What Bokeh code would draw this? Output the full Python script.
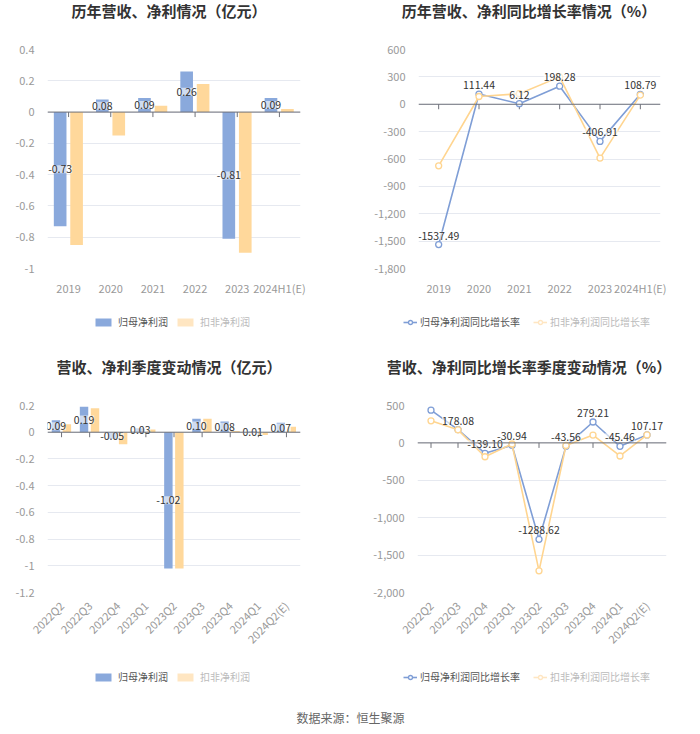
import math
from bokeh.plotting import figure
from bokeh.layouts import row, column
from bokeh.models import (ColumnDataSource, FixedTicker, NumeralTickFormatter, Legend,
                          LegendItem, Range1d, FactorRange, Span)
from bokeh.transform import dodge
from bokeh.core.properties import value
from bokeh.embed import file_html
from bokeh.resources import INLINE

FONT = "Noto Sans CJK SC"

# ---------------- data ----------------
years = ["2019", "2020", "2021", "2022", "2023", "2024H1(E)"]
annual_parent_profit = [-0.73, 0.08, 0.09, 0.26, -0.81, 0.09]
annual_deducted_profit = [-0.85, -0.15, 0.04, 0.18, -0.90, 0.02]
annual_parent_growth = [-1537.49, 111.44, 6.12, 198.28, -406.91, 108.79]
annual_deducted_growth = [-675, 85, 115, 300, -590, 100]

quarters = ["2022Q2", "2022Q3", "2022Q4", "2023Q1", "2023Q2", "2023Q3",
            "2023Q4", "2024Q1", "2024Q2(E)"]
q_parent_profit = [0.09, 0.19, -0.05, 0.03, -1.02, 0.10, 0.08, 0.01, 0.07]
q_deducted_profit = [0.06, 0.18, -0.09, 0.02, -1.02, 0.10, 0.01, -0.02, 0.04]
q_parent_growth = [437.72, 178.08, -139.10, -30.94, -1288.62, -43.56, 279.21, -45.46, 107.17]
q_deducted_growth = [295, 175, -185, -15, -1710, -35, 105, -175, 107]

annual_profit_ticks = [-1, -0.8, -0.6, -0.4, -0.2, 0, 0.2, 0.4]
annual_growth_ticks = [-1800, -1500, -1200, -900, -600, -300, 0, 300, 600]
q_profit_ticks = [-1.2, -1, -0.8, -0.6, -0.4, -0.2, 0, 0.2]
q_growth_ticks = [-2000, -1500, -1000, -500, 0, 500]

titles_top = ["历年营收、净利情况（亿元）", "历年营收、净利同比增长率情况（%）"]
titles_bottom = ["营收、净利季度变动情况（亿元）", "营收、净利同比增长率季度变动情况（%）"]
name_parent = "归母净利润"
name_deducted = "扣非净利润"
name_parent_g = "归母净利润同比增长率"
name_deducted_g = "扣非净利润同比增长率"
source_note = "数据来源：恒生聚源"

BLUE_BAR = "#8AA9DC"
ORANGE_BAR = "#FFD89B"
BLUE_LINE = "#7F9ED6"
ORANGE_LINE = "#FFD590"
LEGEND_ORANGE = "#FFE6C2"
GRID = "#E6E9F0"
AXIS = "#6E7079"
LABEL = "#999999"
NAN = float("nan")
DATA_FONT_SIZE = "10.5px"

LW, RW = 350, 346
TOTAL_W = LW + RW


def strip_fig(height):
    """Full-width helper figure whose frame fills it; data units are pixels."""
    p = figure(width=TOTAL_W, height=height, x_range=Range1d(0, TOTAL_W),
               y_range=Range1d(0, height), min_border=0, x_axis_location=None,
               y_axis_location=None, toolbar_location=None, output_backend="svg")
    p.grid.grid_line_color = None
    p.outline_line_color = None
    return p


def title_strip(height, texts, centers_x, center_y):
    p = strip_fig(height)
    p.text(x=centers_x, y=[height - center_y] * len(texts), text=texts,
           text_align="center", text_baseline="middle", text_font=value(FONT),
           text_font_size="15px", text_font_style="bold", text_color="#333333")
    return p


def legend_strip(height, cy, specs):
    p = strip_fig(height)
    for label, color, fill, x, kind in specs:
        if kind == "bar":
            rs = [p.vbar(x=[NAN], top=[NAN], width=1, fill_color=fill, line_color=None)]
            gw, gh, so = 20, 10, 5
        else:
            rs = [p.line(x=[NAN], y=[NAN], line_color=fill, line_width=1.6),
                  p.scatter(x=[NAN], y=[NAN], size=7, fill_color="white", line_color=fill,
                            line_width=1.3)]
            gw, gh, so = 14, 10, 3
        leg = Legend(items=[LegendItem(label=label, renderers=rs)],
                     location=(x, height - cy - 6), orientation="horizontal",
                     border_line_color=None, background_fill_alpha=0, padding=0, margin=0,
                     glyph_width=gw, glyph_height=gh, label_standoff=so, label_height=12,
                     label_text_font=FONT, label_text_font_size="10px",
                     label_text_color=color)
        p.add_layout(leg)
    return p


def style_axes(p, ticks, fmt, rotate):
    p.outline_line_color = None
    p.xgrid.grid_line_color = None
    p.ygrid.grid_line_color = GRID
    p.yaxis.ticker = FixedTicker(ticks=ticks)
    p.yaxis.formatter = NumeralTickFormatter(format=fmt)
    for ax in (p.xaxis[0], p.yaxis[0]):
        ax.axis_line_color = None
        ax.major_tick_line_color = None
        ax.minor_tick_line_color = None
        ax.major_label_text_color = LABEL
        ax.major_label_text_font = FONT
        ax.major_label_text_font_size = "11px"
    p.yaxis.major_label_standoff = 7
    p.xaxis.major_label_standoff = 5
    if rotate:
        p.xaxis.major_label_orientation = math.pi / 4


def zero_axis(p, xs, ticks, frame_h):
    p.add_layout(Span(location=0, dimension="width", line_color=AXIS, line_width=1))
    tick_len = 5 * (ticks[-1] - ticks[0]) / frame_h
    p.segment(x0=xs, x1=xs, y0=[0] * len(xs), y1=[-tick_len] * len(xs),
              line_color=AXIS, line_width=1)


def label_text(p, **kw):
    try:
        return p.text(background_fill_color="white", background_fill_alpha=0.6, **kw)
    except Exception:
        return p.text(**kw)


def bar_chart(cats, blue, orange, ticks, width, height, mb, frame_h, rotate=False):
    p = figure(width=width, height=height, x_range=FactorRange(factors=cats, range_padding=0),
               y_range=Range1d(ticks[0], ticks[-1]), toolbar_location=None,
               output_backend="svg", min_border_left=mb[0], min_border_right=mb[1],
               min_border_top=mb[2], min_border_bottom=mb[3])
    style_axes(p, ticks, "0.[0]", rotate)
    src = ColumnDataSource(dict(cat=cats, blue=blue, orange=orange,
                                mid=[v / 2 for v in blue],
                                lab=["%.2f" % v for v in blue]))
    p.vbar(x=dodge("cat", -0.2, range=p.x_range), top="blue", bottom=0, width=0.3,
           source=src, fill_color=BLUE_BAR, line_color=None)
    p.vbar(x=dodge("cat", 0.19, range=p.x_range), top="orange", bottom=0, width=0.3,
           source=src, fill_color=ORANGE_BAR, line_color=None)
    zero_axis(p, cats, ticks, frame_h)
    label_text(p, x=dodge("cat", -0.2, range=p.x_range), y="mid", text="lab", source=src,
               text_align="center", text_baseline="middle", text_font=value(FONT),
               text_font_size=DATA_FONT_SIZE, text_color="#333333")
    return p


def line_chart(cats, blue, orange, ticks, width, height, mb, frame_w, frame_h,
               extra_right=0, rotate=False):
    # categorical positions on a numeric scale; extra_right widens the frame a little
    # on the right (for the last data label) while keeping the category spacing
    n = len(cats)
    xs = list(range(n))
    pad = n * extra_right / frame_w
    p = figure(width=width, height=height, x_range=Range1d(-0.5, n - 0.5 + pad),
               y_range=Range1d(ticks[0], ticks[-1]), toolbar_location=None,
               output_backend="svg", min_border_left=mb[0],
               min_border_right=mb[1] - extra_right, min_border_top=mb[2],
               min_border_bottom=mb[3])
    style_axes(p, ticks, "0,0", rotate)
    p.xaxis.ticker = FixedTicker(ticks=xs)
    p.xaxis.major_label_overrides = {i: c for i, c in zip(xs, cats)}
    src = ColumnDataSource(dict(x=xs, blue=blue, orange=orange,
                                lab=["%.2f" % v for v in blue]))
    zero_axis(p, xs, ticks, frame_h)
    p.line(x="x", y="blue", source=src, line_color=BLUE_LINE, line_width=1.6)
    p.scatter(x="x", y="blue", source=src, size=6, fill_color="white",
              line_color=BLUE_LINE, line_width=1.3)
    p.line(x="x", y="orange", source=src, line_color=ORANGE_LINE, line_width=1.6)
    p.scatter(x="x", y="orange", source=src, size=6, fill_color="white",
              line_color=ORANGE_LINE, line_width=1.3)
    label_text(p, x="x", y="blue", text="lab", source=src, text_align="center",
               text_baseline="bottom", y_offset=-5, text_font=value(FONT),
               text_font_size=DATA_FONT_SIZE, text_color="#333333")
    return p


legend_specs = [(name_parent, "#555555", BLUE_BAR, 93, "bar"),
                (name_deducted, "#BBBBBB", LEGEND_ORANGE, 175, "bar"),
                (name_parent_g, "#555555", BLUE_LINE, 403, "line"),
                (name_deducted_g, "#BBBBBB", LEGEND_ORANGE, 533, "line")]

# ---- top row (page y 0..348) ----
title_top = title_strip(30, titles_top, [168.5, 528.5], 10)
c1 = bar_chart(years, annual_parent_profit, annual_deducted_profit, annual_profit_ticks,
               LW, 278, (47, 50, 19, 40), 219)
c2 = line_chart(years, annual_parent_growth, annual_deducted_growth, annual_growth_ticks,
                RW, 278, (68, 36, 19, 40), 242, 219)
legend_top = legend_strip(40, 15, legend_specs)

# ---- bottom row (page y 348..708) ----
title_bottom = title_strip(40, titles_bottom, [168.5, 528.5], 18)
c3 = bar_chart(quarters, q_parent_profit, q_deducted_profit, q_profit_ticks,
               LW, 270, (47, 50, 17, 66), 187, rotate=True)
c4 = line_chart(quarters, q_parent_growth, q_deducted_growth, q_growth_ticks,
                RW, 270, (67, 36, 17, 66), 243, 187, extra_right=6, rotate=True)
legend_bottom = legend_strip(50, 20, legend_specs)

foot = strip_fig(22)
foot.text(x=[350], y=[22 - 9], text=[source_note], text_align="center",
          text_baseline="middle", text_font=value(FONT), text_font_size="12px",
          text_color="#666666")

layout = column(title_top, row(c1, c2), legend_top,
                title_bottom, row(c3, c4), legend_bottom,
                foot)
open("out.html", "w").write(file_html(layout, INLINE))
